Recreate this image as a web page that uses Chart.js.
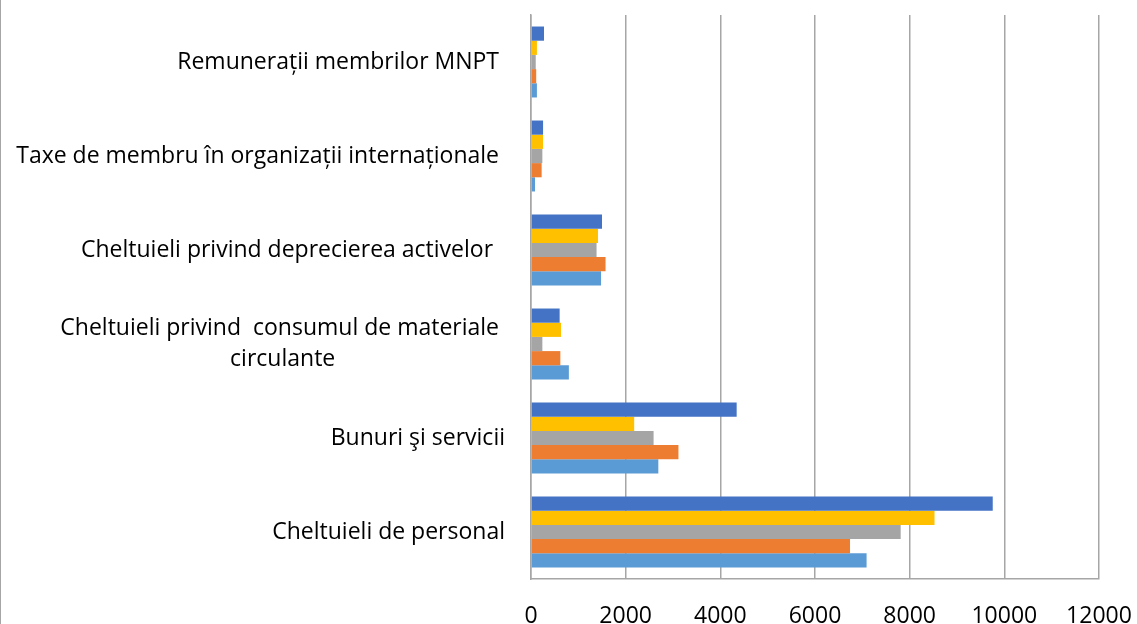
<!DOCTYPE html>
<html>
<head>
<meta charset="utf-8">
<script src="https://cdn.jsdelivr.net/npm/chart.js@4.4.1/dist/chart.umd.min.js"></script>
<style>
  html, body { margin: 0; background: #fff; }
  #wrap { position: relative; width: 1137px; height: 624px; box-sizing: border-box; border-left: 1px solid #a6a6a6; }
</style>
</head>
<body>
<div id="wrap"><canvas id="costChart"></canvas></div>
<script>
// categorii, de sus in jos (spatiile de la final ca in original)
const categories = [
  ["Remunerații membrilor MNPT "],
  ["Taxe de membru în organizații internaționale "],
  ["Cheltuieli privind deprecierea activelor  "],
  ["Cheltuieli privind  consumul de materiale ", "circulante"],
  ["Bunuri şi servicii"],
  ["Cheltuieli de personal"],
];

// valori pe serii, in ordinea barelor din grup (sus -> jos)
const serie5 = [275, 255, 1500, 605, 4345, 9755];
const serie4 = [125, 255, 1415, 635, 2180, 8525];
const serie3 = [100, 240, 1385, 240, 2590, 7810];
const serie2 = [110, 225, 1575, 620, 3115, 6740];
const serie1 = [125, 85, 1480, 800, 2690, 7090];

const xTicksMax = 12000;
const xTicksStep = 2000;

const gridColor = "#a6a6a6";
const labelFont = "'Open Sans', 'Noto Sans', sans-serif";

// etichetele categoriilor: blocul aliniat la dreapta, randurile centrate (ca in Excel)
const categoryLabels = {
  id: "categoryLabels",
  afterDraw(chart) {
    const { ctx, chartArea, scales: { y } } = chart;
    ctx.save();
    ctx.font = "23px " + labelFont;
    ctx.fillStyle = "#000";
    ctx.textAlign = "center";
    ctx.textBaseline = "middle";
    chart.data.labels.forEach((lines, i) => {
      const yc = y.getPixelForValue(i);
      const w = Math.max(...lines.map((l) => ctx.measureText(l).width));
      const cx = chartArea.left - 26 - w / 2;
      lines.forEach((line, k) => {
        ctx.fillText(line, cx, yc + (k - (lines.length - 1) / 2) * 31);
      });
    });
    ctx.restore();
  },
};

const ctx = document.getElementById("costChart").getContext("2d");
const chart = new Chart(ctx, {
  type: "bar",
  data: {
    labels: categories,
    datasets: [
      { label: "Seria 5", data: serie5, backgroundColor: "#4472c4" },
      { label: "Seria 4", data: serie4, backgroundColor: "#ffc000" },
      { label: "Seria 3", data: serie3, backgroundColor: "#a5a5a5" },
      { label: "Seria 2", data: serie2, backgroundColor: "#ed7d31" },
      { label: "Seria 1", data: serie1, backgroundColor: "#5b9bd5" },
    ],
  },
  options: {
    indexAxis: "y",
    responsive: true,
    maintainAspectRatio: false,
    animation: false,
    datasets: {
      bar: {
        barPercentage: 1.0,
        categoryPercentage: 0.755,
        borderWidth: 0,
      },
    },
    layout: {
      padding: { top: 15, right: 38, bottom: 0, left: 0 },
    },
    plugins: {
      legend: { display: false },
      tooltip: { enabled: false },
    },
    scales: {
      x: {
        min: 0,
        max: xTicksMax,
        ticks: {
          stepSize: xTicksStep,
          color: "#000",
          padding: 24,
          maxRotation: 0,
          font: { family: labelFont, size: 23 },
          callback: (v) => String(v),
        },
        grid: {
          color: gridColor,
          lineWidth: 1.5,
          drawTicks: false,
        },
        border: { color: gridColor, width: 1.5 },
        afterFit: (scale) => {
          scale.height = 45;
          scale.paddingLeft = 0;
          scale.paddingRight = 0;
        },
      },
      y: {
        ticks: { display: false },
        grid: { display: false },
        border: { display: true, color: gridColor, width: 1.5 },
        afterFit: (scale) => {
          scale.width = 530;
        },
      },
    },
  },
  plugins: [categoryLabels],
});
</script>
</body>
</html>
